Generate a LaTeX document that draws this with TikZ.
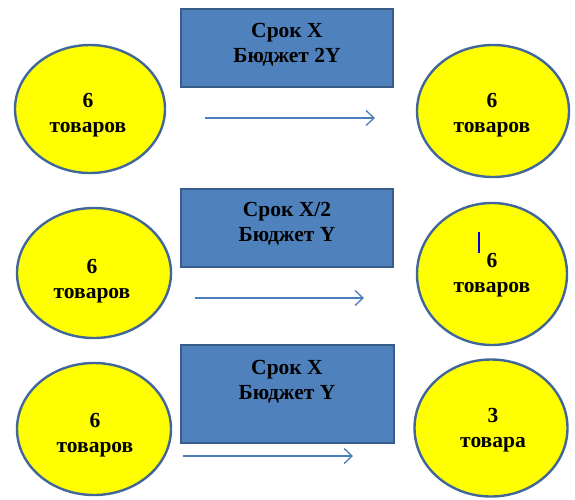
\documentclass[tikz,border=0pt]{standalone}
\usepackage{fontspec}
\setmainfont{Liberation Serif}
\usepackage{xcolor}
\definecolor{termFill}{HTML}{4F81BD}
\definecolor{termBorder}{HTML}{385D8A}
\definecolor{goodsFill}{HTML}{FFFF00}
\definecolor{goodsBorder}{HTML}{41679A}
\definecolor{arrowBlue}{HTML}{4A7EBB}
\definecolor{caretBlue}{HTML}{0000E6}
\usepackage{tikz}
\usetikzlibrary{shapes.geometric,arrows.meta}
\tikzset{
    goods/.style={
        draw=goodsBorder,
        fill=goodsFill,
        ellipse,
        line width=2.4pt,
        inner sep=0pt
    },
    term/.style={
        draw=termBorder,
        fill=termFill,
        rectangle,
        line width=2pt,
        inner sep=0pt
    },
    caption/.style={
        align=center,
        inner sep=0pt,
        font=\fontsize{21.5}{25}\selectfont\bfseries
    },
    arrow/.style={
        -{Straight Barb[length=8pt,width=15pt]},
        line width=1.3pt,
        color=arrowBlue
    },
    caret/.style={
        line width=2.5pt,
        color=caretBlue
    }
}

\begin{document}
\begin{tikzpicture}[x=1pt,y=-1pt]
    \useasboundingbox (0,0) rectangle (575,499);

    % Goods before
    \node[goods, minimum width=150pt, minimum height=128pt] (left1) at (90,109) {};
    \node[goods, minimum width=154pt, minimum height=130pt] (left2) at (94,273) {};
    \node[goods, minimum width=154pt, minimum height=132pt] (left3) at (94,429) {};
    \node[caption] (left1txt) at (88,115) {6\\товаров};
    \node[caption] (left2txt) at (92,281.5) {6\\товаров};
    \node[caption] (left3txt) at (95,435) {6\\товаров};

    % Goods after
    \node[goods, minimum width=152pt, minimum height=132pt] (right1) at (493,111) {};
    \node[goods, minimum width=150pt, minimum height=142pt] (right2) at (492,274) {};
    \node[goods, minimum width=153pt, minimum height=137pt] (right3) at (491,428) {};
    \node[caption] (right1txt) at (492,115.5) {6\\товаров};
    \node[caption] (right2txt) at (492,275.5) {6\\товаров};
    \node[caption] (right3txt) at (493,430) {3\\товара};

    % Terms
    \node[term, minimum width=212pt, minimum height=78pt] (term1) at (287,48) {};
    \node[term, minimum width=212pt, minimum height=78pt] (term2) at (287,228) {};
    \node[term, minimum width=213pt, minimum height=98pt] (term3) at (287.5,394) {};
    \node[caption] (term1txt) at (287,44.5) {Срок X\\Бюджет 2Y};
    \node[caption] (term2txt) at (287,223.5) {Срок X/2\\Бюджет Y};
    \node[caption] (term3txt) at (287,381.5) {Срок X\\Бюджет Y};

    % Arrows
    \coordinate (from1) at (205,118);
    \coordinate (to1) at (375,118);
    \coordinate (from2) at (195,298);
    \coordinate (to2) at (364,298);
    \coordinate (from3) at (183,456);
    \coordinate (to3) at (353,456);
    \draw[arrow] (from1) -- (to1);
    \draw[arrow] (from2) -- (to2);
    \draw[arrow] (from3) -- (to3);

    % Caret
    \coordinate (caretTop) at (479,232);
    \coordinate (caretBot) at (479,253);
    \draw[caret] (caretTop) -- (caretBot);
\end{tikzpicture}
\end{document}
